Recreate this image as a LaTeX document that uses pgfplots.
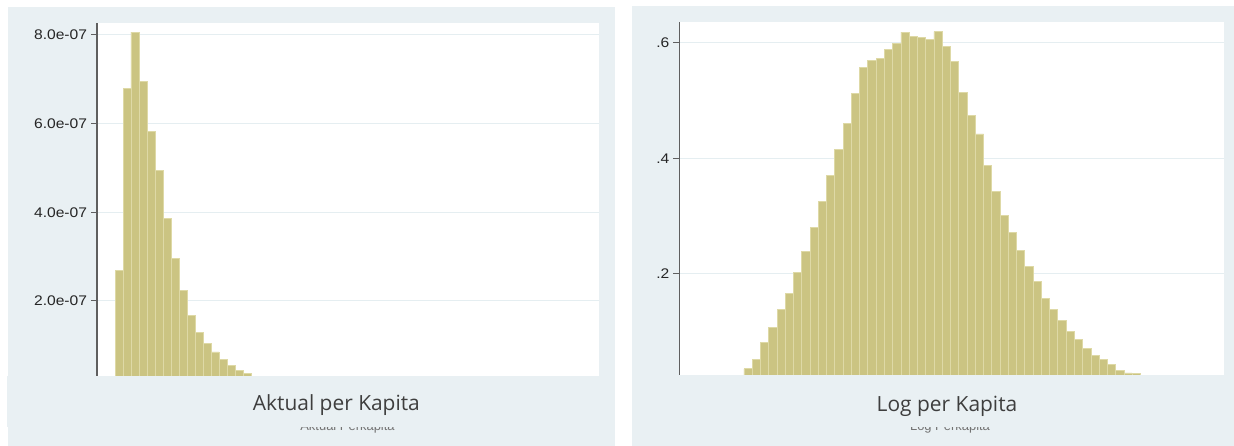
\documentclass[border=0pt]{standalone}
\usepackage{pgfplots}
\pgfplotsset{compat=1.18}
\usepackage{pgfplotstable}
\usepackage{fontspec}
\setmainfont{Liberation Sans}
\newfontfamily\capfont{Open Sans}
\definecolor{panelbg}{RGB}{233,240,243}
\definecolor{barfill}{RGB}{203,196,130}
\definecolor{baredge}{RGB}{222,217,166}
\definecolor{gridc}{RGB}{229,238,241}
\definecolor{axisc}{RGB}{95,95,95}
\definecolor{captext}{RGB}{62,62,62}

\pgfplotstableread{
bin val
0 2.68e-7
1 6.80e-7
2 8.06e-7
3 6.96e-7
4 5.83e-7
5 4.95e-7
6 3.87e-7
7 2.95e-7
8 2.24e-7
9 1.68e-7
10 1.29e-7
11 1.05e-7
12 0.85e-7
13 0.68e-7
14 0.54e-7
15 0.44e-7
16 0.37e-7
17 0.29e-7
18 0.23e-7
19 0.18e-7
20 0.14e-7
21 0
}\aktual

\pgfplotstableread{
bin val
0 .036
1 .053
2 .081
3 .108
4 .138
5 .166
6 .203
7 .239
8 .281
9 .325
10 .371
11 .415
12 .460
13 .512
14 .557
15 .569
16 .573
17 .588
18 .599
19 .618
20 .611
21 .609
22 .606
23 .619
24 .594
25 .567
26 .514
27 .474
28 .442
29 .388
30 .342
31 .301
32 .272
33 .240
34 .213
35 .187
36 .157
37 .138
38 .119
39 .100
40 .087
41 .072
42 .059
43 .052
44 .043
45 .034
46 .029
47 .028
48 0
}\logpk

\pgfplotsset{
  histpanel/.style={
    scale only axis,
    anchor=south west,
    axis background/.style={fill=white},
    axis x line=none,
    axis y line*=left,
    y axis line style={-, draw=axisc, line width=1.2bp},
    tick align=outside,
    major tick length=6bp,
    ytick style={draw=axisc, line width=1bp},
    yticklabel style={font=\fontsize{14}{14}\selectfont, text=black!85, xscale=1.12},
    ymajorgrids,
    grid style={gridc, line width=1bp},
    scaled y ticks=false,
    ymin=0,
  },
  histbars/.style={ybar interval, fill=barfill, draw=baredge, line width=0.8bp},
}

\begin{document}
\begin{tikzpicture}
\path[use as bounding box] (0bp,0bp) rectangle (1234bp,446bp);
\fill[panelbg] (8bp,0bp) rectangle (615bp,439bp);
\fill[panelbg] (632bp,0bp) rectangle (1234bp,440bp);

\begin{axis}[histpanel,
  at={(97bp,56.3bp)}, width=502.3bp, height=367bp,
  xmin=-2.25, xmax=60.54, ymax=8.275e-7,
  ytick={2e-7,4e-7,6e-7,8e-7},
  yticklabels={2.0e-07,4.0e-07,6.0e-07,8.0e-07}]
\addplot[histbars] table[x=bin,y=val]{\aktual};
\end{axis}

\begin{axis}[histpanel,
  at={(679.3bp,56.3bp)}, width=544.7bp, height=368bp,
  xmin=-7.83, xmax=58.11, ymax=0.636,
  ytick={0.2,0.4,0.6},
  yticklabels={.2,.4,.6}]
\addplot[histbars] table[x=bin,y=val]{\logpk};
\end{axis}

% original (covered) axis titles
\node[anchor=base, font=\fontsize{13}{13}\selectfont, text=black!55] at (347.5bp,16bp) {Aktual Perkapita};
\node[anchor=base, font=\fontsize{13}{13}\selectfont, text=black!55] at (950bp,16bp) {Log Perkapita};

% caption strips
\fill[panelbg] (7bp,19bp) rectangle (615bp,70bp);
\fill[panelbg] (632bp,18.5bp) rectangle (1234bp,71bp);
\node[anchor=base, font=\capfont\fontsize{21}{21}\selectfont, text=captext] at (336.4bp,35.3bp) {Aktual per Kapita};
\node[anchor=base, font=\capfont\fontsize{21}{21}\selectfont, text=captext] at (947bp,35bp) {Log per Kapita};
\end{tikzpicture}
\end{document}
